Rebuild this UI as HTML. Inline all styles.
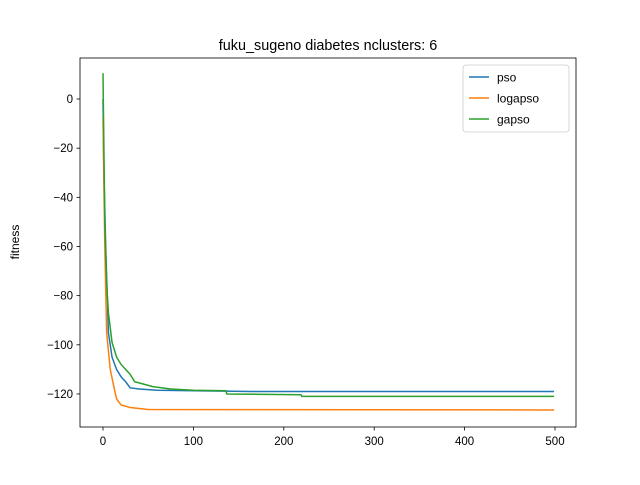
<!DOCTYPE html>
<html><head><meta charset="utf-8"><style>
body{margin:0;background:#fff;}
text{font-family:"Liberation Sans","DejaVu Sans",sans-serif;}
</style></head><body>
<svg id="chart" width="640" height="480">
<rect width="640" height="480" fill="#fff"/>
<text x="328" y="50" text-anchor="middle" font-size="14.4">fuku_sugeno diabetes nclusters: 6</text>
<g id="plot"></g>
<rect x="80" y="58" width="496" height="369" fill="none" stroke="#000" stroke-width="0.8"/>
<text x="19" y="242" text-anchor="middle" font-size="12" transform="rotate(-90 19 242)">fitness</text>
<g>
<rect x="463" y="65" width="106" height="67" rx="3" fill="#fff" stroke="#ccc" stroke-width="0.8"/>
<g id="legend-entries"></g>
</g>
</svg>
<script>
const psoX=[0,1,3,6,10,15,20,25,30,40,60,165,499];
const psoY=[0,-30,-60,-95,-105,-110,-113,-115,-117.5,-118,-118.5,-119,-119];
const logapsoX=[0,1,2,4,8,12,15,20,30,50,499];
const logapsoY=[-8,-35,-60,-95,-110,-117,-122,-124.5,-125.5,-126.3,-126.5];
const gapsoX=[0,1,2,4,6,10,15,20,25,30,35,45,55,75,100,136,137,219,220,499];
const gapsoY=[10.5,-20,-50,-75,-87,-99,-105,-108,-110,-112,-115,-116,-117,-118,-118.5,-118.7,-120,-120.3,-121,-121];
const xTicks=[0,100,200,300,400,500];
const yTicks=[0,-20,-40,-60,-80,-100,-120];
const seriesNames=["pso","logapso","gapso"];
const colors=["#1f77b4","#ff7f0e","#2ca02c"];
const xs=v=>103+v*0.904;
const ys=v=>99-v*2.458;
const NS="http://www.w3.org/2000/svg";
const plot=document.getElementById('plot');
function mk(t,a,p){const e=document.createElementNS(NS,t);for(const k in a)e.setAttribute(k,a[k]);(p||plot).appendChild(e);return e;}
xTicks.forEach(t=>{
 const g=mk('g',{});
 
 
 mk('line',{x1:xs(t),x2:xs(t),y1:427,y2:430.5,stroke:'#000','stroke-width':0.8},g);
 const tx=mk('text',{x:xs(t),y:445,'text-anchor':'middle','font-size':11.5},g);tx.textContent=t;
});
yTicks.forEach(t=>{
 const g=mk('g',{});
 
 
 mk('line',{x1:76.5,x2:80,y1:ys(t),y2:ys(t),stroke:'#000','stroke-width':0.8},g);
 const tx=mk('text',{x:73,y:ys(t)+4,'text-anchor':'end','font-size':11.5},g);tx.textContent=(t<0?'\u2212'+(-t):t);
});
[[psoX,psoY],[logapsoX,logapsoY],[gapsoX,gapsoY]].forEach((s,i)=>{
 const d=s[0].map((x,j)=>(j?'L':'M')+xs(x).toFixed(2)+','+ys(s[1][j]).toFixed(2)).join('');
 const p=mk('path',{d:d,fill:'none',stroke:colors[i],'stroke-width':1.5});
 
 
});
const le=document.getElementById('legend-entries');
seriesNames.forEach((n,i)=>{
 const g=mk('g',{},le);
 
 
 const y=77+i*21;
 mk('line',{x1:469,x2:489,y1:y,y2:y,stroke:colors[i],'stroke-width':1.5},g);
 const t=mk('text',{x:497,y:y+4.5,'font-size':12},g);t.textContent=n;
});
</script>
</body></html>
